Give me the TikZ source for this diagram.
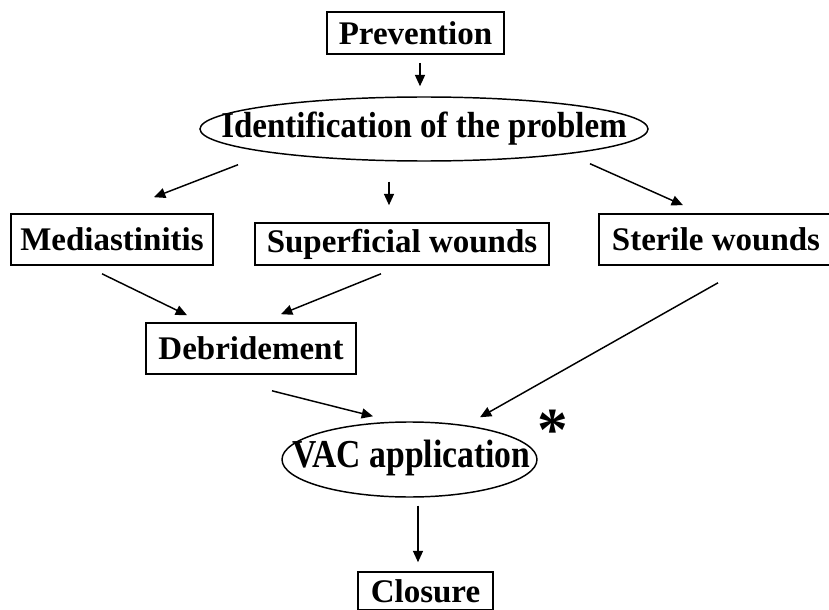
\documentclass[tikz,border=0pt]{standalone}
\usepackage{fontspec}
\setmainfont{Liberation Serif}
\usetikzlibrary{arrows.meta,shapes.geometric}
\begin{document}
\begin{tikzpicture}[x=0.75pt,y=-0.75pt,
  lab/.style={font=\fontsize{24.75}{28}\selectfont\bfseries, inner sep=0pt},
  boxed/.style={lab, draw, line width=1.2pt, minimum height=#1},
  boxed/.default=38.25pt,
  oval/.style={draw, ellipse, line width=1.1pt, inner sep=0pt},
  arr/.style={line width=1.1pt, -{Triangle[length=8.5pt,width=7.5pt]}}]
\useasboundingbox (0,0) rectangle (829,610);
% nodes
\node[boxed=31.5pt, minimum width=132.75pt] (prev) at (415.5,33) {Prevention};
\node[oval, minimum width=336pt, minimum height=48pt] (ident) at (424,129) {};
\node[lab] (identtext) at (ident.center) {\scalebox{1}[1.1]{Identification of the problem}};
\node[boxed, minimum width=151.5pt] (med) at (112,239.5) {Mediastinitis};
\node[boxed=31.5pt, minimum width=220.5pt] (sup) at (402,244) {Superficial wounds};
\node[boxed, minimum width=175.5pt] (ster) at (716,239.5) {Sterile wounds};
\node[boxed, minimum width=157.5pt] (debr) at (251,348.5) {Debridement};
\node[oval, minimum width=191.25pt, minimum height=56.25pt] (vac) at (409.5,459.5) {};
\node[lab] (vactext) at ([shift={(2,-2)}]vac.center) {\scalebox{1.02}[1.2]{VAC application}};
\node[lab, font=\fontsize{46}{46}\selectfont\bfseries] (star) at (553,430) {*};
\node[boxed=28.5pt, minimum width=101.25pt] (clos) at (425.5,591) {Closure};
% connectors
\draw[arr] ([shift={(4.5,8)}]prev.south) -- ([shift={(-4,-10)}]ident.north);
\draw[arr] ([shift={(-186,3)}]ident.south) -- ([shift={(42,-16)}]med.north);
\draw[arr] ([shift={(-35,20)}]ident.south) -- ([shift={(-13,-17)}]sup.north);
\draw[arr] ([shift={(166,2)}]ident.south) -- ([shift={(-33,-8)}]ster.north);
\draw[arr] ([shift={(-10,8)}]med.south) -- ([shift={(-64,-7)}]debr.north);
\draw[arr] ([shift={(-21,8)}]sup.south) -- ([shift={(30,-8)}]debr.north);
\draw[arr] ([shift={(2,17)}]ster.south) -- ([shift={(70.5,-4)}]vac.north);
\draw[arr] ([shift={(21,16)}]debr.south) -- ([shift={(-36.5,-5)}]vac.north);
\draw[arr] ([shift={(8.5,8)}]vac.south) -- ([shift={(-7.5,-9)}]clos.north);
\end{tikzpicture}
\end{document}
